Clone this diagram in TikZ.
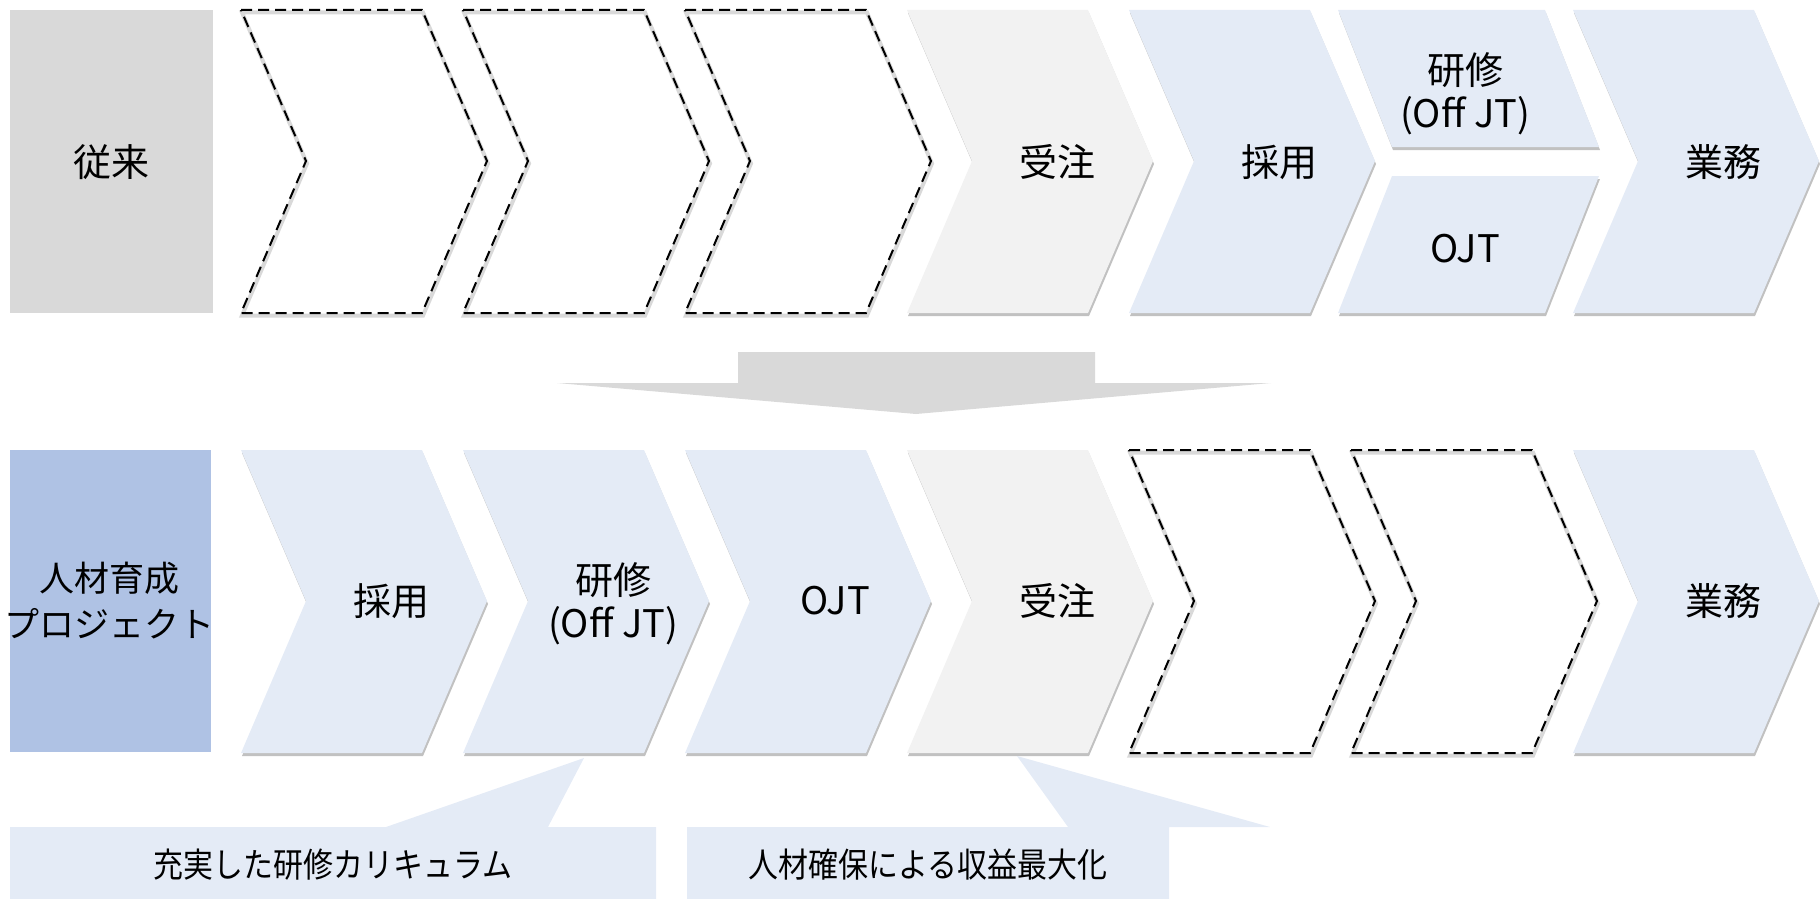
\documentclass[tikz,border=0pt]{standalone}
\usepackage{fontspec}
\setmainfont{Noto Sans CJK JP}
\usepackage{tikz}
\usetikzlibrary{shadows}

\definecolor{oldgray}{HTML}{D9D9D9}
\definecolor{newblue}{HTML}{AFC2E4}
\definecolor{stepblue}{HTML}{E4EBF6}
\definecolor{stepgray}{HTML}{F2F2F2}

% one chevron, top-left corner at (#2,#3)
\newcommand{\chevron}[3]{%
  \path[#1] (#2,#3) -- ++(181,0) -- ++(65,151) -- ++(-65,152) -- ++(-181,0) -- ++(65,-152) -- cycle;}
\newcommand{\narrow}[1]{\scalebox{0.88}[1]{#1}}

\begin{document}
\begin{tikzpicture}[x=1pt,y=-1pt,
    txt/.style={font=\fontsize{38}{43}\selectfont,align=center,inner sep=0pt},
    small/.style={font=\fontsize{34}{40}\selectfont,inner sep=0pt},
    full/.style={drop shadow={shadow xshift=1pt,shadow yshift=-3pt,opacity=.35,fill=black!70}},
    blue/.style={full,fill=stepblue},
    grey/.style={full,fill=stepgray},
    blank/.style={preaction={draw=black!15,line width=4pt,transform canvas={xshift=1pt,yshift=-2.5pt}},
                  draw=black,line width=2pt,dash pattern=on 11pt off 6pt,line join=miter}]
  \useasboundingbox (0,0) rectangle (1820,899);

  % top row
  \fill[oldgray] (10,10) rectangle (213,313);
  \node[txt] (juurai) at (111,162) {従来};
  \foreach \x in {241,463,685} {\chevron{blank}{\x}{10}}
  \chevron{grey}{907}{10}
  \chevron{blue}{1129}{10}
  \path[blue] (1338,10) -- (1545,10) -- (1599,147) -- (1392,147) -- cycle;
  \path[blue] (1392,176) -- (1599,176) -- (1545,313) -- (1338,313) -- cycle;
  \chevron{blue}{1573}{10}
  \node[txt] (juchu1) at (1057,162) {受注};
  \node[txt] (saiyo1) at (1279,162) {採用};
  \node[txt] (kenshu1) at (1465,94) {研修\\(Off JT)};
  \node[txt] (ojt1) at (1465,249) {OJT};
  \node[txt] (gyomu1) at (1723,162) {業務};

  % arrow between rows
  \fill[oldgray] (738,352) -- (1095,352) -- (1095,383) -- (1271,383) -- (916,414) -- (557,383) -- (738,383) -- cycle;

  % bottom row
  \fill[newblue] (10,450) rectangle (211,752);
  \node[txt,font=\fontsize{35}{46}\selectfont] (jinzai) at (110,601) {人材育成\\プロジェクト};
  \chevron{blue}{241}{450}
  \chevron{blue}{463}{450}
  \chevron{blue}{685}{450}
  \chevron{grey}{907}{450}
  \foreach \x in {1129,1351} {\chevron{blank}{\x}{450}}
  \chevron{blue}{1573}{450}
  \node[txt] (saiyo2) at (391,601) {採用};
  \node[txt] (kenshu2) at (613,604) {研修\\(Off JT)};
  \node[txt] (ojt2) at (835,601) {OJT};
  \node[txt] (juchu2) at (1057,601) {受注};
  \node[txt] (gyomu2) at (1723,601) {業務};

  % callouts
  \fill[stepblue] (10,827) -- (386,827) -- (584,758) -- (548,827) -- (656,827) -- (656,899) -- (10,899) -- cycle;
  \fill[stepblue] (687,827) -- (1068,827) -- (1017,756) -- (1270,827) -- (1169,827) -- (1169,899) -- (687,899) -- cycle;
  \node[small] (curriculum) at (333,865) {\narrow{充実した研修カリキュラム}};
  \node[small] (shueki) at (928,865) {\narrow{人材確保による収益最大化}};
\end{tikzpicture}
\end{document}
